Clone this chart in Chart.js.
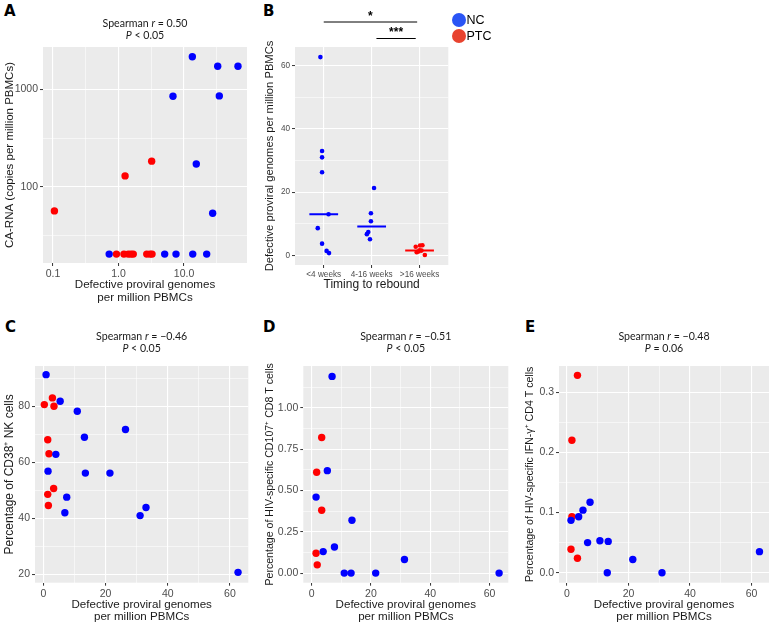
<!DOCTYPE html>
<html>
<head>
<meta charset="utf-8">
<script src="https://cdn.jsdelivr.net/npm/chart.js@4.4.1/dist/chart.umd.min.js"></script>
<style>
  body { margin: 0; background: #fff; width: 781px; height: 634px; position: relative; overflow: hidden; }
  canvas { position: absolute; }
  .tag { position: absolute; font: bold 15px 'DejaVu Sans', 'Liberation Sans', Arial, sans-serif; line-height: 15px; color: #000; }
</style>
</head>
<body>
<div class="tag" style="left:4px;top:4px">A</div>
<div class="tag" style="left:263px;top:4px">B</div>
<div class="tag" style="left:5px;top:320px">C</div>
<div class="tag" style="left:263px;top:320px">D</div>
<div class="tag" style="left:525px;top:320px">E</div>

<canvas id="chartA" width="262" height="310" style="left:0;top:0"></canvas>
<canvas id="chartB" width="248" height="310" style="left:262px;top:0"></canvas>
<canvas id="chartC" width="262" height="324" style="left:0;top:310px"></canvas>
<canvas id="chartD" width="256" height="324" style="left:262px;top:310px"></canvas>
<canvas id="chartE" width="263" height="324" style="left:518px;top:310px"></canvas>

<script>
// A: CA-RNA vs defective proviral genomes (log-log)
var aNcX = [13.4, 32.7, 66.7, 6.79, 34.6, 15.4, 27.4, 0.72, 5.07, 7.55, 13.6, 22.2];
var aNcY = [2150, 1720, 1720, 848, 855, 172, 54, 20.6, 20.6, 20.6, 20.6, 20.6];
var aPtcX = [0.105, 1.26, 3.21, 0.93, 1.21, 1.41, 1.55, 1.68, 2.70, 3.03, 3.25];
var aPtcY = [57, 130, 184, 20.6, 20.6, 20.6, 20.6, 20.6, 20.6, 20.6, 20.6];

// B: defective genomes by timing to rebound (jitter)
var bCategories = ['<4 weeks', '4-16 weeks', '>16 weeks'];
var bEarly = [62.7, 33.0, 31.0, 26.3, 13.0, 8.6, 3.7, 1.4, 0.7];
var bEarlyJitter = [-0.07, -0.035, -0.035, -0.035, 0.1, -0.125, -0.035, 0.06, 0.11];
var bMid = [21.3, 13.3, 10.8, 7.4, 6.7, 5.1];
var bMidJitter = [0.05, -0.015, -0.015, -0.07, -0.1, -0.035];
var bLate = [2.7, 3.1, 3.2, 1.0, 1.2, 1.5, 1.6, 0.1];
var bLateJitter = [-0.08, 0.01, 0.06, -0.06, -0.02, 0.04, 0.0, 0.11];

// C: % CD38+ NK cells
var cNcX = [0.86, 5.4, 10.9, 26.4, 13.2, 4.0, 1.5, 13.5, 21.4, 7.5, 6.9, 33.0, 31.1, 62.6];
var cNcY = [91.4, 81.9, 78.3, 71.8, 69.0, 62.9, 56.9, 56.2, 56.2, 47.6, 42.0, 43.9, 41.0, 20.7];
var cPtcX = [0.3, 2.9, 3.4, 1.4, 1.8, 3.3, 1.4, 1.6];
var cPtcY = [80.7, 83.1, 80.1, 68.1, 63.1, 50.7, 48.6, 44.6];

// D: % HIV-specific CD107+ CD8 T cells
var dNcX = [6.9, 5.3, 1.5, 13.6, 7.7, 3.9, 31.3, 11.0, 13.3, 21.6, 63.2];
var dNcY = [1.19, 0.62, 0.46, 0.32, 0.158, 0.13, 0.082, 0, 0, 0, 0];
var dPtcX = [3.4, 1.7, 3.4, 1.5, 1.9];
var dPtcY = [0.82, 0.61, 0.38, 0.12, 0.05];

// E: % HIV-specific IFN-g+ CD4 T cells
var eNcX = [7.5, 5.2, 3.8, 1.3, 6.7, 10.7, 13.4, 21.4, 13.1, 30.9, 62.6];
var eNcY = [0.117, 0.104, 0.093, 0.087, 0.050, 0.053, 0.052, 0.022, 0, 0, 0.035];
var ePtcX = [3.4, 1.6, 1.6, 1.3, 3.4];
var ePtcY = [0.328, 0.220, 0.093, 0.039, 0.024];

var NC_COLOR = '#0000ff';
var PTC_COLOR = '#ff0000';
var xTitle = ['Defective proviral genomes', 'per million PBMCs'];

Chart.defaults.font.family = "'Liberation Sans', Arial, sans-serif";
Chart.defaults.color = '#4d4d4d';
Chart.defaults.animation = false;
Chart.defaults.responsive = false;
Chart.defaults.plugins.legend.display = false;
Chart.defaults.plugins.tooltip.enabled = false;

function pts(xs, ys) {
  return xs.map(function (x, i) { return {x: x, y: ys[i]}; });
}

function median(arr) {
  var s = arr.slice().sort(function (a, b) { return a - b; });
  var m = Math.floor(s.length / 2);
  return s.length % 2 ? s[m] : (s[m - 1] + s[m]) / 2;
}

function dots(data, color, r) {
  return {data: data, backgroundColor: color, borderWidth: 0, pointRadius: r || 3.7, pointHoverRadius: r || 3.7};
}

function axis(o) {
  return {
    type: o.log ? 'logarithmic' : 'linear',
    min: o.min,
    max: o.max,
    bounds: 'data',
    border: {display: false},
    grid: {
      color: '#ffffff',
      lineWidth: function (c) { return c.tick && c.tick.minor ? 0.55 : 1.1; },
      tickColor: function (c) { return c.tick && c.tick.minor ? 'rgba(0,0,0,0)' : '#333333'; },
      tickWidth: 1,
      tickLength: 3
    },
    afterBuildTicks: function (scale) {
      var list = o.major.map(function (v) { return {value: v}; })
        .concat((o.minor || []).map(function (v) { return {value: v, minor: true}; }));
      list.sort(function (a, b) { return a.value - b.value; });
      scale.ticks = list;
    },
    afterFit: function (scale) {
      if (scale.isHorizontal()) scale.height = o.size;
      else scale.width = o.size;
    },
    ticks: {
      autoSkip: false,
      maxRotation: 0,
      padding: 2,
      color: '#4d4d4d',
      font: {size: o.tickSize || 10.5},
      callback: function (v, i, ticks) { return ticks[i].minor ? '' : o.fmt(v); }
    },
    title: {
      display: true,
      text: o.title,
      color: '#1a1a1a',
      font: {size: o.titleSize || 11.6, lineHeight: 1.07},
      padding: o.titlePad
    }
  };
}

// grey panel behind the grid
var panelBg = {
  id: 'panelBg',
  beforeDraw: function (chart) {
    var a = chart.chartArea, ctx = chart.ctx;
    ctx.save();
    ctx.fillStyle = '#ebebeb';
    ctx.fillRect(a.left, a.top, a.right - a.left, a.bottom - a.top);
    ctx.restore();
  }
};

// "Spearman r = ..." heading, with italic runs
var panelTitle = {
  id: 'panelTitle',
  afterDraw: function (chart, args, opts) {
    if (!opts || !opts.lines) return;
    var ctx = chart.ctx, a = chart.chartArea;
    var cx = (a.left + a.right) / 2;
    var size = opts.size || 10.6;
    function font(it) { return (it ? 'italic ' : '') + size + 'px Lato, sans-serif'; }
    ctx.save();
    ctx.fillStyle = '#1a1a1a';
    ctx.textBaseline = 'middle';
    ctx.textAlign = 'left';
    opts.lines.forEach(function (runs, k) {
      var total = 0;
      runs.forEach(function (r) { ctx.font = font(r.i); total += ctx.measureText(r.t).width; });
      var x = cx - total / 2;
      runs.forEach(function (r) {
        ctx.font = font(r.i);
        ctx.fillText(r.t, x, a.top + opts.offsets[k]);
        x += ctx.measureText(r.t).width;
      });
    });
    ctx.restore();
  }
};

Chart.register(panelBg, panelTitle);

function spearman(r, p) {
  return [
    [{t: 'Spearman '}, {t: 'r', i: true}, {t: ' = ' + r}],
    [{t: 'P', i: true}, {t: p}]
  ];
}

// ---- A ----
new Chart(document.getElementById('chartA'), {
  type: 'scatter',
  data: {datasets: [dots(pts(aNcX, aNcY), NC_COLOR), dots(pts(aPtcX, aPtcY), PTC_COLOR)]},
  options: {
    layout: {padding: {top: 47, right: 15, left: 0, bottom: 0}},
    scales: {
      x: axis({log: true, min: 0.0703, max: 91.6, major: [0.1, 1, 10], minor: [0.316, 3.16, 31.6],
        fmt: function (v) { return v.toFixed(1); }, size: 47, title: xTitle, titlePad: {top: 0, bottom: 6.2}}),
      y: axis({log: true, min: 16.7, max: 2707, major: [100, 1000], minor: [31.6, 316],
        fmt: function (v) { return String(v); }, size: 43, title: 'CA-RNA (copies per million PBMCs)',
        titleSize: 11.5, titlePad: {top: 3.9, bottom: 0}})
    },
    plugins: {panelTitle: {lines: spearman('0.50', ' < 0.05'), offsets: [-23, -11]}}
  }
});

// ---- B ----
function jittered(values, jit, cat) {
  return values.map(function (v, i) { return {x: cat + jit[i], y: v}; });
}
function medianBar(values, cat, color) {
  var m = median(values);
  return {type: 'line', data: [{x: cat - 0.3, y: m}, {x: cat + 0.3, y: m}], borderColor: color,
    borderWidth: 2, pointRadius: 0, showLine: true};
}

var bExtras = {
  id: 'bExtras',
  afterDraw: function (chart) {
    var ctx = chart.ctx, xs = chart.scales.x;
    ctx.save();
    // significance brackets
    ctx.strokeStyle = '#000';
    ctx.lineWidth = 1;
    [[1.0, 2.95, 22, '*', 19.5], [2.1, 2.92, 38.5, '***', 36]].forEach(function (b) {
      var x1 = xs.getPixelForValue(b[0]), x2 = xs.getPixelForValue(b[1]);
      ctx.beginPath();
      ctx.moveTo(x1, b[2]);
      ctx.lineTo(x2, b[2]);
      ctx.stroke();
      ctx.fillStyle = '#000';
      ctx.font = 'bold 12px "Liberation Sans", Arial, sans-serif';
      ctx.textAlign = 'center';
      ctx.textBaseline = 'alphabetic';
      ctx.fillText(b[3], (x1 + x2) / 2, b[4]);
    });
    // NC / PTC key
    [['NC', '#2a55f5', 20], ['PTC', '#e8432f', 36]].forEach(function (k) {
      ctx.fillStyle = k[1];
      ctx.beginPath();
      ctx.arc(197, k[2], 7, 0, Math.PI * 2);
      ctx.fill();
      ctx.fillStyle = '#000';
      ctx.font = '12.5px "Liberation Sans", Arial, sans-serif';
      ctx.textAlign = 'left';
      ctx.textBaseline = 'middle';
      ctx.fillText(k[0], 204.5, k[2] + 0.5);
    });
    ctx.restore();
  }
};

new Chart(document.getElementById('chartB'), {
  type: 'scatter',
  data: {datasets: [
    dots(jittered(bEarly, bEarlyJitter, 1), NC_COLOR, 2.3),
    dots(jittered(bMid, bMidJitter, 2), NC_COLOR, 2.3),
    dots(jittered(bLate, bLateJitter, 3), PTC_COLOR, 2.3),
    medianBar(bEarly, 1, NC_COLOR),
    medianBar(bMid, 2, NC_COLOR),
    medianBar(bLate, 3, PTC_COLOR)
  ]},
  options: {
    layout: {padding: {top: 47, right: 61.7, left: 0, bottom: 0}},
    scales: {
      x: axis({min: 0.4, max: 3.6, major: [1, 2, 3], fmt: function (v) { return bCategories[Math.round(v) - 1]; },
        tickSize: 8.2, size: 45, title: 'Timing to rebound', titleSize: 12, titlePad: {top: 0, bottom: 18.4}}),
      y: axis({min: -3.06, max: 65.9, major: [0, 20, 40, 60], minor: [10, 30, 50], fmt: function (v) { return String(v); },
        tickSize: 8.2, size: 33, title: 'Defective proviral genomes per million PBMCs', titleSize: 11.2,
        titlePad: {top: 2, bottom: 0}})
    }
  },
  plugins: [bExtras]
});

// ---- C, D, E ----
function bottomPanel(id, o) {
  new Chart(document.getElementById(id), {
    type: 'scatter',
    data: {datasets: [dots(pts(o.ncX, o.ncY), NC_COLOR), dots(pts(o.ptcX, o.ptcY), PTC_COLOR)]},
    options: {
      layout: {padding: {top: 56, right: o.right, left: 0, bottom: 0}},
      scales: {
        x: axis({min: o.xMin, max: o.xMax, major: [0, 20, 40, 60], minor: [10, 30, 50],
          fmt: function (v) { return String(v); }, size: 51.3, title: xTitle, titlePad: {top: 0, bottom: 10.5}}),
        y: axis({min: o.yMin, max: o.yMax, major: o.yMajor, minor: o.yMinor, fmt: o.yFmt, size: o.yWidth,
          title: o.yTitle, titleSize: o.yTitleSize, titlePad: {top: o.yTitlePad, bottom: 0}})
      },
      plugins: {panelTitle: {lines: spearman(o.r, o.p), offsets: [-29.5, -17]}}
    }
  });
}

bottomPanel('chartC', {
  ncX: cNcX, ncY: cNcY, ptcX: cPtcX, ptcY: cPtcY, right: 13.7,
  xMin: -2.7, xMax: 65.9, yMin: 17.0, yMax: 94.5, yMajor: [20, 40, 60, 80], yMinor: [30, 50, 70, 90],
  yFmt: function (v) { return String(v); }, yWidth: 35,
  yTitle: 'Percentage of CD38\u207A NK cells', yTitleSize: 12, yTitlePad: 3.6,
  r: '\u22120.46', p: ' < 0.05'
});

bottomPanel('chartD', {
  ncX: dNcX, ncY: dNcY, ptcX: dPtcX, ptcY: dPtcY, right: 9.7,
  xMin: -2.8, xMax: 66.3, yMin: -0.058, yMax: 1.253, yMajor: [0, 0.25, 0.5, 0.75, 1],
  yMinor: [0.125, 0.375, 0.625, 0.875, 1.125],
  yFmt: function (v) { return v.toFixed(2); }, yWidth: 41.3,
  yTitle: 'Percentage of HIV-specific CD107\u207A CD8 T cells', yTitleSize: 10.6, yTitlePad: 2.2,
  r: '\u22120.51', p: ' < 0.05'
});

bottomPanel('chartE', {
  ncX: eNcX, ncY: eNcY, ptcX: ePtcX, ptcY: ePtcY, right: 12,
  xMin: -2.6, xMax: 65.7, yMin: -0.0166, yMax: 0.3435, yMajor: [0, 0.1, 0.2, 0.3], yMinor: [0.05, 0.15, 0.25],
  yFmt: function (v) { return v.toFixed(1); }, yWidth: 41,
  yTitle: 'Percentage of HIV-specific IFN-\u03B3\u207A CD4 T cells', yTitleSize: 10.6, yTitlePad: 6.2,
  r: '\u22120.48', p: ' = 0.06'
});
</script>
</body>
</html>
